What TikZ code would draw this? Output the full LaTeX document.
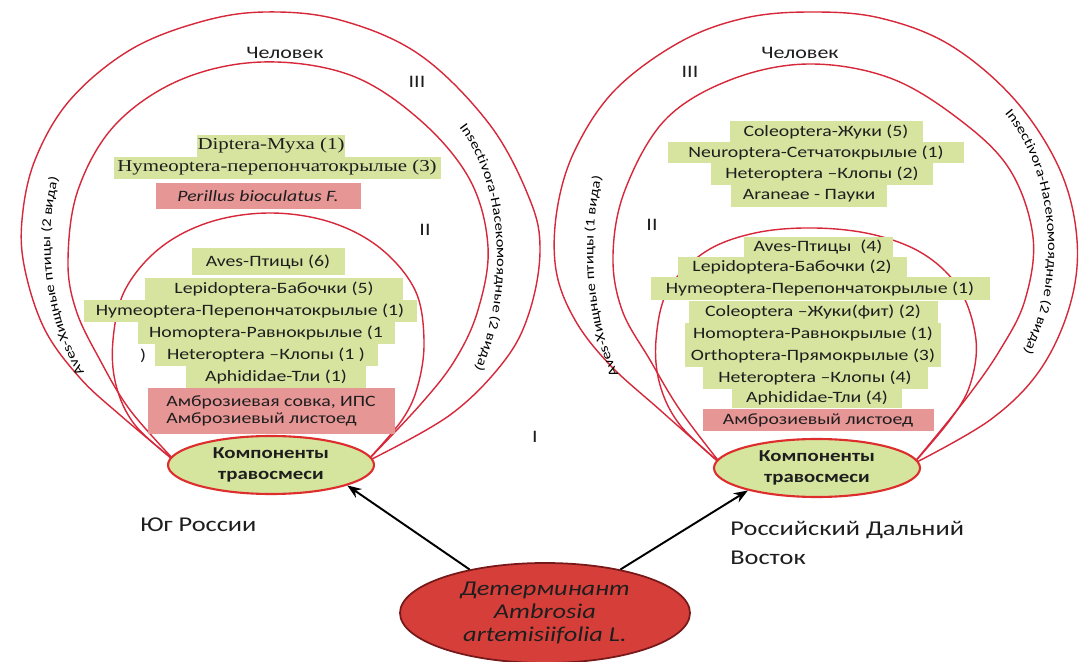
\documentclass[tikz,border=0pt]{standalone}
\usepackage{fontspec}
\setmainfont{Carlito}[FakeStretch=1.25]
\newfontfamily\serifst{Liberation Serif}[FakeStretch=1.25]
\usetikzlibrary{shapes.geometric,decorations.text,arrows.meta}
\definecolor{arcred}{RGB}{214,40,58}
\definecolor{gfill}{RGB}{214,228,160}
\definecolor{pfill}{RGB}{231,150,150}
\definecolor{ellfill}{RGB}{213,229,158}
\definecolor{ellred}{RGB}{222,45,45}
\definecolor{detfill}{RGB}{214,62,58}
\definecolor{detdraw}{RGB}{120,25,25}
\definecolor{txt}{RGB}{30,30,30}
\newcommand\upx{0.02cm}
\newcommand\labfont{\fontsize{7.5}{9}\selectfont}
\begin{document}
\begin{tikzpicture}[x=0.02cm,y=-0.02cm,
  arcl/.style={draw=arcred, line width=0.8pt},
  gbox/.style={fill=gfill, inner sep=0pt, minimum height=22*\upx, text=txt, font=\fontsize{9}{10}\selectfont},
  sbox/.style={gbox, font=\fontsize{9.5}{10}\selectfont\serifst},
  pbox/.style={gbox, fill=pfill},
  comp/.style={ellipse, fill=ellfill, draw=ellred, line width=1.2pt, inner sep=0pt,
    minimum width=206*\upx, minimum height=58*\upx, align=center, text=txt,
    font=\fontsize{9.5}{11.5}\selectfont\bfseries},
  lab/.style={text=txt, inner sep=0pt, font=\fontsize{10}{12}\selectfont},
  region/.style={text=txt, inner sep=0pt, font=\fontsize{12}{16.5}\selectfont, align=left},
  arr/.style={-{Stealth[length=8pt,width=6pt]}, line width=1.1pt, black},
  sidelab/.style={decorate, decoration={text along path, text align=center}}
]
\useasboundingbox (0,0) rectangle (1082,662);
\fill[white] (0,0) rectangle (1082,662);

% ---------- left diagram arcs ----------
\draw[arcl] plot[smooth, tension=0.6] coordinates {(176,462) (120,415) (80,378) (45,330) (25,270) (22,220) (35,160) (70,100) (130,50) (200,22) (265,12) (340,20) (420,55) (490,125) (530,200) (540,250) (530,310) (505,360) (450,415) (366,462)};
\draw[arcl] plot[smooth, tension=0.6] coordinates {(176,462) (130,410) (100,360) (76,310) (68,260) (78,190) (115,125) (180,80) (262,62) (350,75) (420,120) (470,180) (488,247) (478,310) (455,360) (420,405) (366,462)};
\draw[arcl] plot[smooth, tension=0.6] coordinates {(176,462) (135,425) (116,385) (113,340) (125,290) (160,248) (210,222) (270,213) (330,222) (380,248) (415,290) (424,340) (418,385) (402,420) (366,462)};

% ---------- right diagram arcs ----------
\draw[arcl] plot[smooth, tension=0.6] coordinates {(721,464) (660,410) (610,365) (575,320) (556,270) (557,210) (575,150) (615,90) (680,42) (745,18) (812,12) (880,18) (950,45) (1015,100) (1060,170) (1077,240) (1070,305) (1040,370) (990,420) (913,464)};
\draw[arcl] plot[smooth, tension=0.6] coordinates {(721,464) (680,410) (650,360) (622,310) (613,255) (625,190) (665,120) (730,80) (808,64) (890,78) (960,120) (1010,170) (1033,237) (1025,300) (1000,350) (965,400) (913,464)};
\draw[arcl] plot[smooth, tension=0.6] coordinates {(721,464) (680,425) (660,385) (656,340) (668,290) (705,252) (755,233) (815,228) (875,235) (925,255) (960,290) (976,340) (970,385) (950,420) (913,464)};

% ---------- side labels ----------
\path[sidelab, decoration={text={|\labfont|Aves-Хищные птицы (2 вида)}}] (95,388) .. controls (50,330) and (38,230) .. (64,160);
\path[sidelab, decoration={text={|\labfont|Insectivora-Насекомоядные (2 вида)}}] (455,122) .. controls (505,180) and (510,300) .. (472,375);
\path[sidelab, decoration={text={|\labfont|Aves-Хищные птицы (1 вида)}}] (625,385) .. controls (590,330) and (585,230) .. (605,165);
\path[sidelab, decoration={text={|\labfont|Insectivora-Насекомоядные (2 вида)}}] (1000,108) .. controls (1058,170) and (1062,290) .. (1020,358);

% ---------- left lists ----------
\node[sbox, minimum width=148*\upx] (l1) at (271,146) {Diptera-Муха (1)};
\node[sbox, minimum width=327*\upx] (l2) at (277,168) {Hymeoptera-перепончатокрылые (3)};
\node[pbox, minimum width=205*\upx, minimum height=26*\upx] (l3) at (258,196) {\itshape Perillus bioculatus F.};

\node[gbox, minimum width=153*\upx, minimum height=27*\upx] (l4) at (268,262) {Aves-Птицы (6)};
\node[gbox, minimum width=258*\upx] (l5) at (274,289) {Lepidoptera-Бабочки (5)};
\node[gbox, minimum width=333*\upx] (l6) at (250,311) {Hymeoptera-Перепончатокрылые (1)};
\node[gbox, minimum width=257*\upx] (l7) at (266,333) {Homoptera-Равнокрылые (1};
\node[gbox, minimum width=223*\upx] (l8) at (266,355) {Heteroptera –Клопы (1 )};
\node[lab, font=\fontsize{9}{10}\selectfont] (l8b) at (143,356) {)};
\node[gbox, minimum width=180*\upx] (l9) at (276,377) {Aphididae-Тли (1)};
\node[pbox, minimum width=247*\upx, minimum height=46*\upx, align=left] (l10) at (271,411) {Амброзиевая совка, ИПС\\Амброзиевый листоед};

% ---------- right lists ----------
\node[gbox, minimum width=193*\upx, minimum height=21*\upx] (r1) at (826,132) {Coleoptera-Жуки (5)};
\node[gbox, minimum width=296*\upx, minimum height=21*\upx] (r2) at (816,153) {Neuroptera-Сетчатокрылые (1)};
\node[gbox, minimum width=222*\upx] (r3) at (822,174) {Heteroptera –Клопы (2)};
\node[gbox, minimum width=156*\upx] (r4) at (809,196) {Araneae - Пауки};

\node[gbox, minimum width=149*\upx, minimum height=20*\upx] (r5) at (818,247) {Aves-Птицы\ \ (4)};
\node[gbox, minimum width=229*\upx, minimum height=20*\upx] (r6) at (792,267) {Lepidoptera-Бабочки (2)};
\node[gbox, minimum width=339*\upx, minimum height=23*\upx] (r7) at (820,289) {Hymeoptera-Перепончатокрылые (1)};
\node[gbox, minimum width=249*\upx] (r8) at (813,312) {Coleoptera –Жуки(фит) (2)};
\node[gbox, minimum width=256*\upx] (r9) at (813,334) {Homoptera-Равнокрылые (1)};
\node[gbox, minimum width=256*\upx] (r10) at (813,356) {Orthoptera-Прямокрылые (3)};
\node[gbox, minimum width=225*\upx] (r11) at (815,378) {Heteroptera –Клопы (4)};
\node[gbox, minimum width=170*\upx, minimum height=19*\upx] (r12) at (817,398) {Aphididae-Тли (4)};
\node[pbox, minimum width=231*\upx] (r13) at (818,420) {Амброзиевый листоед};

% ---------- ellipses ----------
\node[comp] (compL) at (271,465) {Компоненты\\травосмеси};
\node[comp] (compR) at (817,468) {Компоненты\\травосмеси};
\node[ellipse, fill=detfill, draw=detdraw, line width=1pt, inner sep=0pt,
  minimum width=290*\upx, minimum height=100*\upx, align=center, text=txt,
  font=\fontsize{12}{13}\selectfont\itshape] (det) at (545,613) {Детерминант\\Ambrosia\\artemisiifolia L.};

% ---------- labels ----------
\node[lab] (chL) at (285,53) {Человек};
\node[lab] (chR) at (800,53) {Человек};
\node[lab] (n3L) at (417,82) {III};
\node[lab] (n2L) at (425,230) {II};
\node[lab] (n1L) at (535,437) {I};
\node[lab] (n3R) at (690,72) {III};
\node[lab] (n2R) at (652,225) {II};
\node[region, anchor=west] (south) at (140,525) {Юг России};
\node[region, anchor=north west] (east) at (730,521) {Российский Дальний\\Восток};

% ---------- arrows ----------
\draw[arr] (det.150) -- (compL.-15);
\draw[arr] (det.30) -- (compR.198);
\end{tikzpicture}
\end{document}
